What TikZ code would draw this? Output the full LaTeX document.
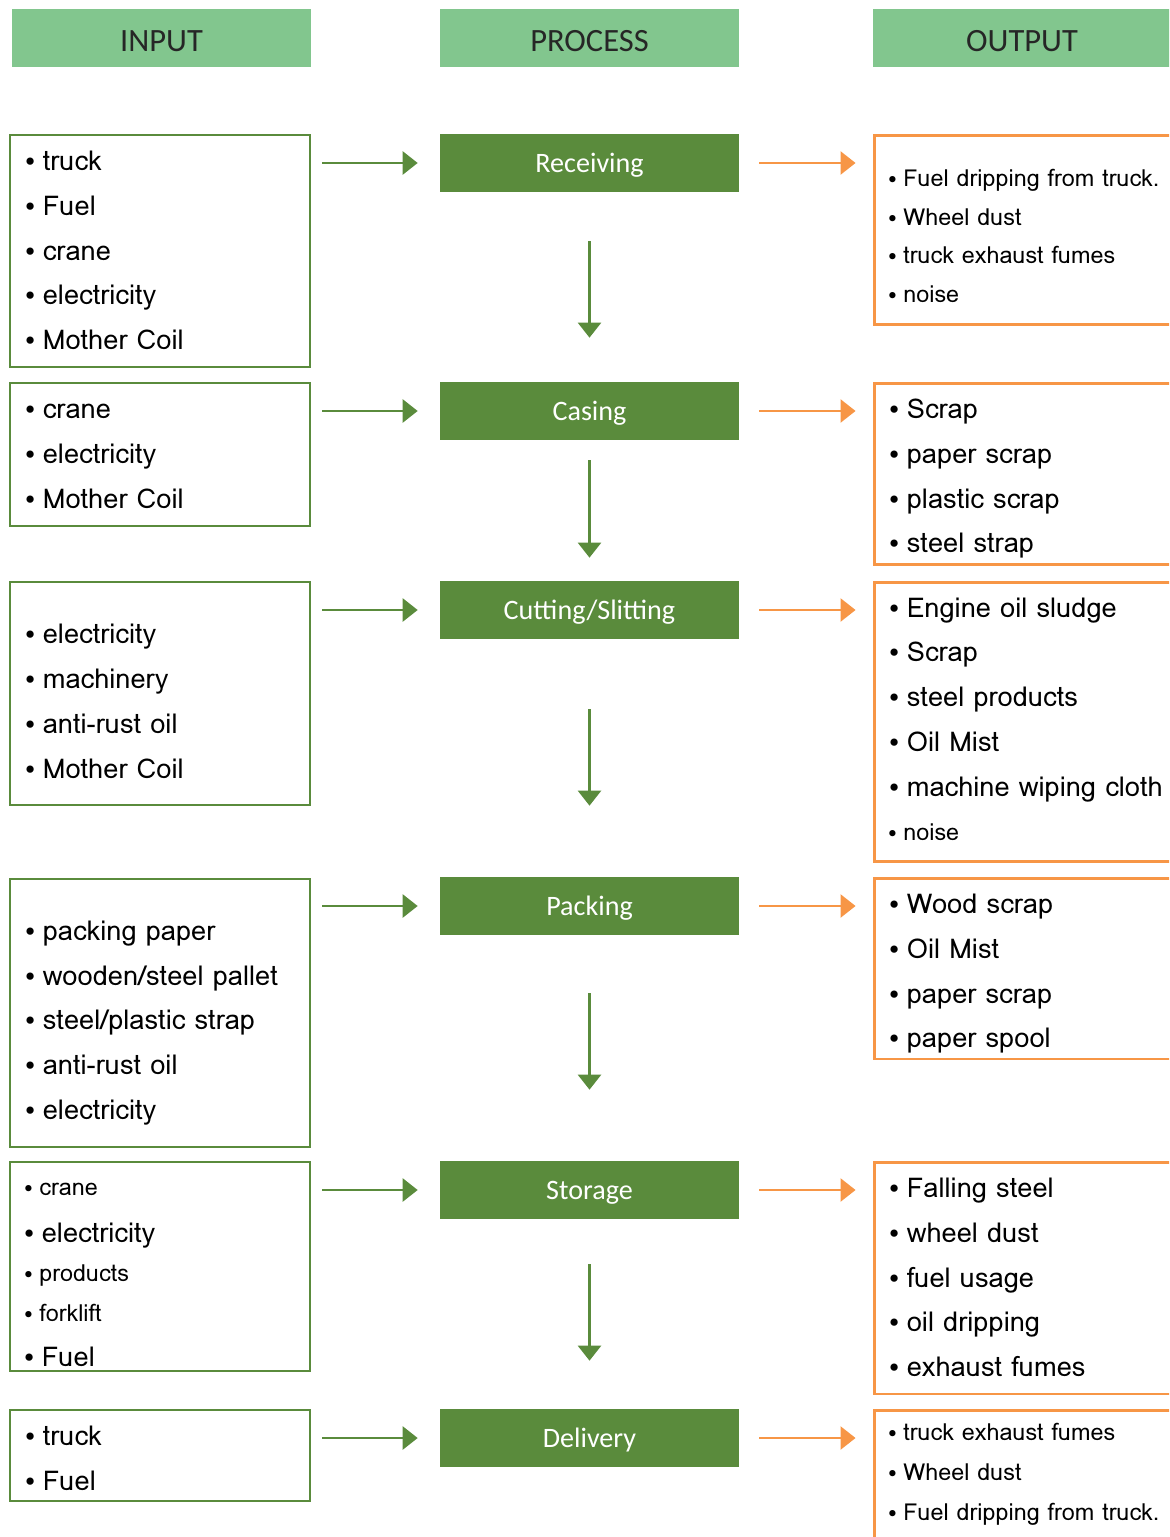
\documentclass[tikz,border=0pt]{standalone}
\usepackage{fontspec}
\usepackage{tikz}
\usetikzlibrary{positioning, arrows.meta, calc}
\newfontfamily\headfont{Carlito}
\newfontfamily\listfont{Loma}
\newcommand{\bul}{\raisebox{0.12ex}{\scalebox{0.78}{\textbullet}}\hspace{0.28em}}
\definecolor{hdgreen}{RGB}{130,198,142}
\definecolor{procgreen}{RGB}{90,139,60}
\definecolor{outorange}{RGB}{247,150,70}
\tikzset{
  head/.style={fill=hdgreen, text=black!85, minimum width=5.98cm, minimum height=1.16cm, inner sep=0, text height=15pt, text depth=0pt, font=\headfont\fontsize{18.5}{22}\selectfont},
  proc/.style={fill=procgreen, text=white, minimum width=5.98cm, minimum height=1.16cm, inner sep=0, text height=11pt, text depth=0pt, font=\headfont\fontsize{16}{19}\selectfont},
  inbox/.style={draw=procgreen, line width=1.6pt, minimum width=6cm, inner sep=0},
  outbox/.style={draw=outorange, line width=1.7pt, minimum width=6.52cm, inner sep=0},
  item/.style={anchor=west, inner sep=0, text height=12pt, text depth=0pt, font=\listfont\fontsize{15.5}{18}\selectfont},
  smallitem/.style={item, text height=10pt, font=\listfont\fontsize{13.3}{16}\selectfont},
  garrow/.style={procgreen, line width=1.4pt, -{Triangle[length=0.3cm, width=0.46cm]}},
  oarrow/.style={outorange, line width=1.4pt, -{Triangle[length=0.3cm, width=0.46cm]}}
}
\begin{document}
\begin{tikzpicture}[x=0.02cm, y=-0.02cm]
    \path[use as bounding box, clip] (0,0) rectangle (1169,1537);

    % Headers
    \node (hin) [head] at (161.5,38) {INPUT};
    \node (hproc) [head] at (589.5,38) {PROCESS};
    \node (hout) [head] at (1022,38) {OUTPUT};

    % Process steps
    \node (recv) [proc] at (589.5,163) {Receiving};
    \node (cas) [proc] at (589.5,411) {Casing};
    \node (cut) [proc] at (589.5,610) {Cutting/Slitting};
    \node (pack) [proc] at (589.5,906) {Packing};
    \node (stor) [proc] at (589.5,1190) {Storage};
    \node (deli) [proc] at (589.5,1438) {Delivery};

    % Input boxes
    \node (inA) [inbox, minimum height=4.64cm] at (160,251) {};
    \node (inB) [inbox, minimum height=2.86cm] at (160,454.5) {};
    \node (inC) [inbox, minimum height=4.46cm] at (160,693.5) {};
    \node (inD) [inbox, minimum height=5.36cm] at (160,1013) {};
    \node (inE) [inbox, minimum height=4.18cm] at (160,1266.5) {};
    \node (inF) [inbox, minimum height=1.82cm] at (160,1455.5) {};

    % Output boxes
    \node (outA) [outbox, minimum height=3.8cm] at (1037,230) {};
    \node (outB) [outbox, minimum height=3.64cm] at (1037,474) {};
    \node (outC) [outbox, minimum height=5.6cm] at (1037,722) {};
    \node (outD) [outbox, minimum height=3.62cm] at (1037,968.5) {};
    \node (outE) [outbox, minimum height=4.64cm] at (1037,1278) {};
    \node (outF) [outbox, minimum height=3.8cm] at (1037,1505) {};

    % Input items
    \foreach \yy/\tt in {160/truck, 205/Fuel, 250/crane, 294/electricity, 339/Mother Coil}
        \node (inA-\yy) [item] at (25,\yy) {\bul\tt};
    \foreach \yy/\tt in {408/crane, 453/electricity, 498/Mother Coil}
        \node (inB-\yy) [item] at (25,\yy) {\bul\tt};
    \foreach \yy/\tt in {633/electricity, 678/machinery, 723/anti-rust oil, 768/Mother Coil}
        \node (inC-\yy) [item] at (25,\yy) {\bul\tt};
    \foreach \yy/\tt in {930/packing paper, 975/{wooden/steel pallet}, 1019/{steel/plastic strap}, 1064/anti-rust oil, 1109/electricity}
        \node (inD-\yy) [item] at (25,\yy) {\bul\tt};
    \node (inE-1) [smallitem] at (24,1187) {\bul crane};
    \node (inE-2) [item] at (24,1232) {\bul electricity};
    \node (inE-3) [smallitem] at (24,1273) {\bul products};
    \node (inE-4) [smallitem] at (24,1313) {\bul forklift};
    \node (inE-5) [item] at (24,1356) {\bul Fuel};
    \foreach \yy/\tt in {1435/truck, 1480/Fuel}
        \node (inF-\yy) [item] at (25,\yy) {\bul\tt};

    % Output items
    \foreach \yy/\tt in {178/Fuel dripping from truck., 217/Wheel dust, 255/truck exhaust fumes, 294/noise}
        \node (outA-\yy) [smallitem] at (888,\yy) {\bul\tt};
    \foreach \yy/\tt in {408/Scrap, 453/paper scrap, 498/plastic scrap, 542/steel strap}
        \node (outB-\yy) [item] at (889,\yy) {\bul\tt};
    \foreach \yy/\tt in {607/Engine oil sludge, 651/Scrap, 696/steel products, 741/Oil Mist, 786/machine wiping cloth}
        \node (outC-\yy) [item] at (889,\yy) {\bul\tt};
    \node (outC-832) [smallitem] at (888,832) {\bul noise};
    \foreach \yy/\tt in {903/Wood scrap, 948/Oil Mist, 993/paper scrap, 1037/paper spool}
        \node (outD-\yy) [item] at (889,\yy) {\bul\tt};
    \foreach \yy/\tt in {1187/Falling steel, 1232/wheel dust, 1277/fuel usage, 1321/oil dripping, 1366/exhaust fumes}
        \node (outE-\yy) [item] at (889,\yy) {\bul\tt};
    \foreach \yy/\tt in {1432/truck exhaust fumes, 1472/Wheel dust, 1512/Fuel dripping from truck.}
        \node (outF-\yy) [smallitem] at (888,\yy) {\bul\tt};

    % Arrows input -> process
    \draw[garrow, shorten <=0.22cm, shorten >=0.44cm] (recv.west -| inA.east) -- (recv.west);
    \draw[garrow, shorten <=0.22cm, shorten >=0.44cm] (cas.west -| inB.east) -- (cas.west);
    \draw[garrow, shorten <=0.22cm, shorten >=0.44cm] (cut.west -| inC.east) -- (cut.west);
    \draw[garrow, shorten <=0.22cm, shorten >=0.44cm] (pack.west -| inD.east) -- (pack.west);
    \draw[garrow, shorten <=0.22cm, shorten >=0.44cm] (stor.west -| inE.east) -- (stor.west);
    \draw[garrow, shorten <=0.22cm, shorten >=0.44cm] (deli.west -| inF.east) -- (deli.west);

    % Arrows process -> output
    \draw[oarrow, shorten <=0.4cm, shorten >=0.34cm] (recv.east) -- (recv.east -| outA.west);
    \draw[oarrow, shorten <=0.4cm, shorten >=0.34cm] (cas.east) -- (cas.east -| outB.west);
    \draw[oarrow, shorten <=0.4cm, shorten >=0.34cm] (cut.east) -- (cut.east -| outC.west);
    \draw[oarrow, shorten <=0.4cm, shorten >=0.34cm] (pack.east) -- (pack.east -| outD.west);
    \draw[oarrow, shorten <=0.4cm, shorten >=0.34cm] (stor.east) -- (stor.east -| outE.west);
    \draw[oarrow, shorten <=0.4cm, shorten >=0.34cm] (deli.east) -- (deli.east -| outF.west);

    % Arrows between steps
    \draw[garrow, shorten <=0.98cm, shorten >=0.88cm] (recv.south) -- (cas.north);
    \draw[garrow, shorten <=0.4cm, shorten >=0.46cm] (cas.south) -- (cut.north);
    \draw[garrow, shorten <=1.4cm, shorten >=1.42cm] (cut.south) -- (pack.north);
    \draw[garrow, shorten <=1.16cm, shorten >=1.42cm] (pack.south) -- (stor.north);
    \draw[garrow, shorten <=0.9cm, shorten >=0.96cm] (stor.south) -- (deli.north);
\end{tikzpicture}
\end{document}
